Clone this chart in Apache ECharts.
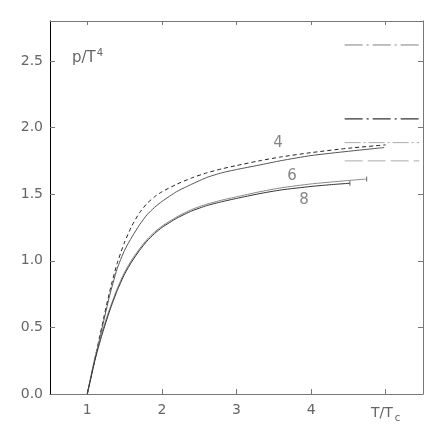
<!DOCTYPE html>
<html>
<head>
<meta charset="utf-8">
<script src="https://cdn.jsdelivr.net/npm/echarts@6/dist/echarts.min.js"></script>
<style>html,body{margin:0;padding:0;background:#fff}#c{width:436px;height:426px}</style>
</head>
<body>
<div id="c"></div>
<script>
// ---- data ----
const xTicks = [1, 2, 3, 4, 5];
const yTicks = [0, 0.5, 1.0, 1.5, 2.0, 2.5];

const curve4Dashed = [[1.0,0],[1.1,0.26],[1.2,0.52],[1.3,0.77],[1.4,0.98],[1.5,1.14],[1.6,1.265],[1.7,1.36],[1.8,1.43],[1.9,1.48],[2.0,1.518],[2.2,1.575],[2.4,1.622],[2.6,1.66],[2.8,1.69],[3.0,1.715],[3.3,1.75],[3.6,1.78],[4.0,1.812],[4.5,1.845],[5.0,1.87]];
const curve4Solid = [[1.0,0],[1.1,0.25],[1.2,0.50],[1.3,0.74],[1.4,0.94],[1.5,1.08],[1.6,1.18],[1.7,1.27],[1.8,1.345],[1.9,1.40],[2.0,1.445],[2.2,1.52],[2.4,1.575],[2.6,1.625],[2.8,1.66],[3.0,1.685],[3.3,1.718],[3.6,1.752],[4.0,1.79],[4.5,1.822],[4.98,1.85]];
const curve6 = [[1.0,0],[1.1,0.27],[1.2,0.47],[1.3,0.64],[1.4,0.79],[1.5,0.915],[1.6,1.01],[1.7,1.09],[1.8,1.16],[1.9,1.215],[2.0,1.26],[2.2,1.33],[2.4,1.385],[2.6,1.425],[2.8,1.455],[3.0,1.48],[3.3,1.517],[3.6,1.548],[4.0,1.577],[4.4,1.598],[4.745,1.614]];
const curve8 = [[1.0,0],[1.1,0.25],[1.2,0.45],[1.3,0.625],[1.4,0.775],[1.5,0.9],[1.6,0.997],[1.7,1.078],[1.8,1.148],[1.9,1.204],[2.0,1.25],[2.2,1.32],[2.4,1.374],[2.6,1.414],[2.8,1.443],[3.0,1.468],[3.3,1.503],[3.6,1.532],[4.0,1.558],[4.3,1.573],[4.52,1.582]];

const limitX = [4.45, 5.45];
const limitValues = [2.62, 2.065, 1.887, 1.75];

const curveLabels = ['4', '6', '8'];
const curveLabelX = [3.556, 3.744, 3.905];
const curveLabelY = [1.884, 1.637, 1.456];

// ---- chart ----
const FONT = 'DejaVu Sans';
const TXT = '#666';
const chart = echarts.init(document.getElementById('c'), null, {renderer: 'canvas'});

const limitStyles = [
  {color: '#808080', type: [18, 4, 2, 4]},
  {color: '#000000', type: [18, 4, 2, 4]},
  {color: '#aaaaaa', type: [16, 3, 2, 3]},
  {color: '#aaaaaa', type: [18, 5]}
];

const limitSeries = limitValues.map((v, i) => ({
  type: 'line', name: 'limit' + i, silent: true, symbol: 'none',
  data: limitX.map(x => [x, v]),
  lineStyle: {width: 1, color: limitStyles[i].color, type: limitStyles[i].type}
}));

const curveSeries = (name, data, color, type) => ({
  type: 'line', name: name, symbol: 'none', data: data,
  smooth: 0.2,
  lineStyle: {width: 1, color: color, type: type || 'solid'}
});

const option = {
  animation: false,
  backgroundColor: '#fff',
  grid: {left: 50, top: 21, right: 13, bottom: 32},
  xAxis: [{
    type: 'value', min: 0.5, max: 5.5, position: 'bottom',
    axisLine: {onZero: false, lineStyle: {color: '#777', width: 1}},
    axisTick: {inside: true, length: 5, customValues: xTicks, lineStyle: {color: '#777'}},
    axisLabel: {
      customValues: xTicks, margin: 9, color: TXT, fontFamily: FONT, fontSize: 14,
      formatter: v => v === 5 ? 'T/T{sub|c}' : String(v),
      rich: {sub: {fontSize: 10, color: TXT, fontFamily: FONT, verticalAlign: 'bottom', padding: [10, 0, 0, 2]}}
    },
    splitLine: {show: false}
  }, {
    type: 'value', min: 0.5, max: 5.5, position: 'top',
    axisLine: {onZero: false, lineStyle: {color: '#777', width: 1}},
    axisTick: {inside: true, length: 4, customValues: xTicks, lineStyle: {color: '#777'}},
    axisLabel: {show: false},
    splitLine: {show: false}
  }],
  yAxis: [{
    type: 'value', min: 0, max: 2.8, position: 'left',
    axisLine: {show: true, onZero: false, lineStyle: {color: '#000', width: 1}},
    axisTick: {show: true, inside: true, length: 5, customValues: yTicks, lineStyle: {color: '#777'}},
    axisLabel: {customValues: yTicks, margin: 7, color: TXT, fontFamily: FONT, fontSize: 14,
      formatter: v => v.toFixed(1)},
    splitLine: {show: false}
  }, {
    type: 'value', min: 0, max: 2.8, position: 'right',
    axisLine: {show: true, onZero: false, lineStyle: {color: '#777', width: 1}},
    axisTick: {show: true, inside: true, length: 5, customValues: yTicks, lineStyle: {color: '#777'}},
    axisLabel: {show: false},
    splitLine: {show: false}
  }],
  graphic: [{
    type: 'text', left: 72, top: 48,
    style: {
      text: 'p/T{sup|4}', fill: TXT, font: '15px "DejaVu Sans"',
      rich: {sup: {fontSize: 10, fill: TXT, fontFamily: FONT, verticalAlign: 'top', padding: [0, 0, 10, 1]}}
    }
  }],
  series: [
    ...limitSeries,
    curveSeries('4 dashed', curve4Dashed, '#222', [4, 3]),
    curveSeries('4', curve4Solid, '#555'),
    curveSeries('6', curve6, '#888'),
    curveSeries('8', curve8, '#333'),
    {type: 'scatter', name: 'ends', silent: true, symbol: 'rect', symbolSize: [1, 5],
      data: [curve6[curve6.length - 1], curve8[curve8.length - 1]],
      itemStyle: {color: '#444'}},
    {type: 'scatter', name: 'labels', silent: true, symbolSize: 0,
      data: curveLabels.map((t, i) => ({value: [curveLabelX[i], curveLabelY[i]], name: t})),
      label: {show: true, position: 'inside', formatter: p => p.name, color: TXT,
        fontFamily: FONT, fontSize: 15}}
  ]
};
chart.setOption(option);
</script>
</body>
</html>
